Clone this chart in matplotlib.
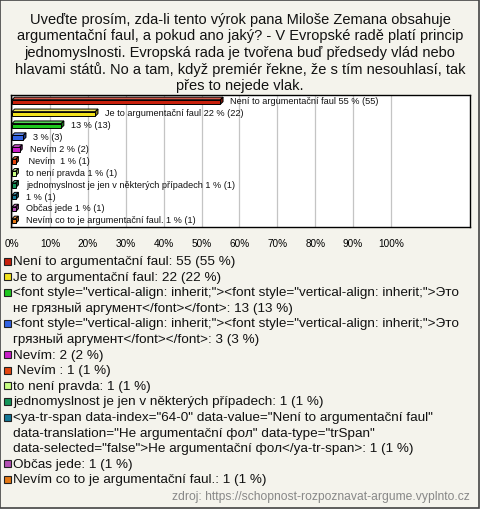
import matplotlib.pyplot as plt
from matplotlib.patches import Polygon, Rectangle
from matplotlib.colors import to_rgb

plt.rcParams['font.family'] = ['Liberation Sans', 'DejaVu Sans']

# data
titulek = ("Uveďte prosím, zda-li tento výrok pana Miloše Zemana obsahuje\n"
           "argumentační faul, a pokud ano jaký? - V Evropské radě platí princip\n"
           "jednomyslnosti. Evropská rada je tvořena buď předsedy vlád nebo\n"
           "hlavami států. No a tam, když premiér řekne, že s tím nesouhlasí, tak\n"
           "přes to nejede vlak.")

popisky_graf = ['Není to argumentační faul', 'Je to argumentační faul', '', '',
                'Nevím', ' Nevím ', 'to není pravda',
                'jednomyslnost je jen v některých případech', '', 'Občas jede',
                'Nevím co to je argumentační faul.']

popisky_legenda = [
    'Není to argumentační faul',
    'Je to argumentační faul',
    '<font style="vertical-align: inherit;"><font style="vertical-align: inherit;">Это\n'
    'не грязный аргумент</font></font>',
    '<font style="vertical-align: inherit;"><font style="vertical-align: inherit;">Это\n'
    'грязный аргумент</font></font>',
    'Nevím',
    ' Nevím ',
    'to není pravda',
    'jednomyslnost je jen v některých případech',
    '<ya-tr-span data-index="64-0" data-value="Není to argumentační faul"\n'
    'data-translation="Не argumentační фол" data-type="trSpan"\n'
    'data-selected="false">Не argumentační фол</ya-tr-span>',
    'Občas jede',
    'Nevím co to je argumentační faul.',
]

pocty = [55, 22, 13, 3, 2, 1, 1, 1, 1, 1, 1]
procenta = [55, 22, 13, 3, 2, 1, 1, 1, 1, 1, 1]

barvy = ['#c8200c', '#f2e21c', '#1ec81e', '#3264e6', '#c81ec8', '#e6460f',
         '#c8ff82', '#14965a', '#147896', '#b450b4', '#e67814']

zdroj = 'zdroj: https://schopnost-rozpoznavat-argume.vyplnto.cz'

W, H = 480, 510
fig = plt.figure(figsize=(W / 100, H / 100), dpi=100)
fig.patch.set_facecolor('#f4f3ec')
fig.add_artist(Rectangle((0.001, 0.001), 0.997, 0.997, transform=fig.transFigure,
                         fill=False, edgecolor='#444444', linewidth=1.2))

fig.text(0.5, 1 - 13 / H, titulek, ha='center', va='top', fontsize=10.5,
         linespacing=1.21, color='#111111')

# graf
left, right, top, bottom = 11, 470, 96, 228
ax = fig.add_axes([left / W, 1 - bottom / H, (right - left) / W, (bottom - top) / H])
ax.set_facecolor('white')
px_x = 3.79   # px na 1 %
px_y = 11.9   # px na radek
ax.set_xlim(-1 / px_x, (right - left - 1) / px_x)
ax.set_ylim((bottom - 103) / px_y, -(103 - top) / px_y)
for s in ax.spines.values():
    s.set_color('black')
    s.set_linewidth(1.0)
ax.set_yticks([])
ax.set_xticks(range(0, 101, 10))
ax.set_xticklabels([f'{v}%' for v in range(0, 101, 10)], fontsize=7.2)
ax.tick_params(axis='x', length=0, pad=8)
ax.grid(axis='x', color='#c4c4c4', linewidth=0.9)
ax.set_axisbelow(True)

vyska = 4.5 / px_y
dx = 2.6 / px_x
dy = 2.6 / px_y

for i, (p, c) in enumerate(zip(procenta, barvy)):
    r, g, b = to_rgb(c)
    svetla = (r + (1 - r) * 0.25, g + (1 - g) * 0.25, b + (1 - b) * 0.25)
    tmava = (r * 0.6, g * 0.6, b * 0.6)
    y0 = i + vyska / 2
    y1 = i - vyska / 2
    ax.add_patch(Polygon([(0, y1), (dx, y1 - dy), (p + dx, y1 - dy), (p, y1)],
                         closed=True, facecolor=svetla, edgecolor='black',
                         linewidth=0.7, zorder=3))
    ax.add_patch(Polygon([(p, y1), (p + dx, y1 - dy), (p + dx, y0 - dy), (p, y0)],
                         closed=True, facecolor=tmava, edgecolor='black',
                         linewidth=0.7, zorder=3))
    ax.barh(i, p, height=vyska, color=c, edgecolor='black', linewidth=0.7,
            zorder=3)
    txt = f'{popisky_graf[i]} {p} % ({pocty[i]})'
    if popisky_graf[i] == '':
        txt = f'{p} % ({pocty[i]})'
    ax.text(p + 10 / px_x, i - 0.1, txt, fontsize=6.6, va='center', ha='left',
            color='#111111', zorder=4)

# legenda
y = 262
krok = 15.6
for nazev, n, p, c in zip(popisky_legenda, pocty, procenta, barvy):
    radky = f'{nazev}: {n} ({p} %)'.split('\n')
    fig.add_artist(Rectangle((3.5 / W, 1 - (y + 3.5) / H), 7 / W, 7 / H,
                             transform=fig.transFigure, facecolor=c,
                             edgecolor='#222222', linewidth=0.8))
    for j, radek in enumerate(radky):
        fig.text(13 / W, 1 - (y + j * krok) / H, radek, fontsize=9.7,
                 va='center', ha='left', color='#111111')
    y += krok * len(radky)

fig.text(470 / W, 1 - 497 / H, zdroj, fontsize=8.7, color='#888888',
         ha='right', va='center')

plt.savefig('out.png', dpi=100, facecolor=fig.get_facecolor())
